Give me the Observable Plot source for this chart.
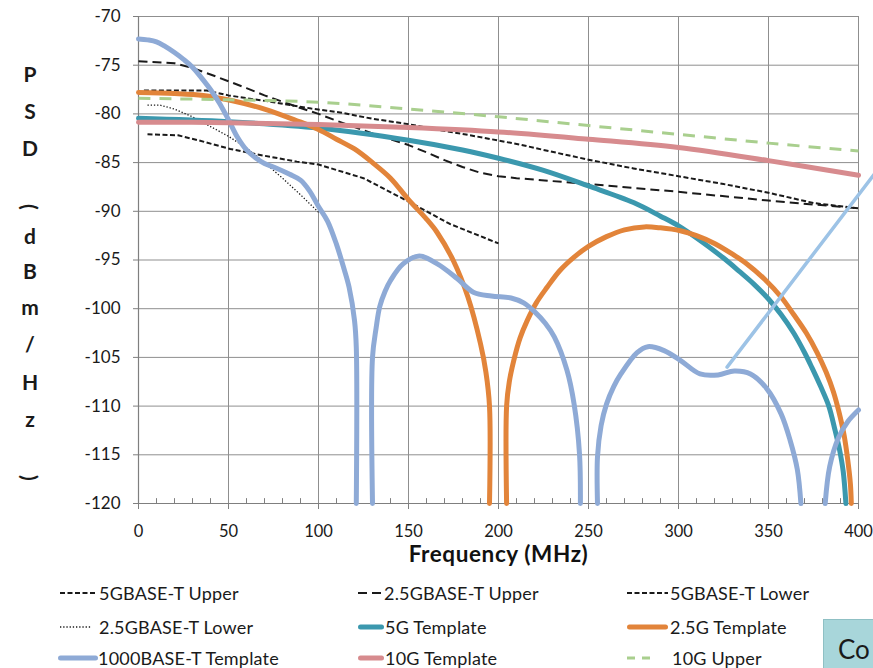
<!DOCTYPE html>
<html>
<head>
<meta charset="utf-8">
<script src="https://cdn.jsdelivr.net/npm/d3@7"></script>
<script src="https://cdn.jsdelivr.net/npm/@observablehq/plot@0.6"></script>
<style>
  body { margin: 0; background: #fff; }
  #wrap { position: relative; width: 873px; height: 668px; overflow: hidden; font-family: Lato, "Open Sans", sans-serif; color: #1a1a1a; }
  #wrap svg { position: absolute; left: 0; top: 0; }
  .ych { position: absolute; left: 30px; font-weight: bold; font-size: 21px; transform: translate(-50%, -50%); line-height: 1; }
  .legtext { position: absolute; font-size: 18px; line-height: 1; transform: translateY(-50%); white-space: nowrap; letter-spacing: 0.2px; }
  .legsw { position: absolute; overflow: visible; }
  #cobox { position: absolute; left: 823px; top: 619px; width: 70px; height: 70px; background: #a8d6da; border: 1px solid #8fc0c4; font-size: 26px; }
  #cobox span { position: absolute; left: 14px; top: 13px; }
</style>
</head>
<body>
<div id="wrap"></div>
<script>
// ---- axis ticks ----
const xTicks = [0, 50, 100, 150, 200, 250, 300, 350, 400];
const yTicks = [-70, -75, -80, -85, -90, -95, -100, -105, -110, -115, -120];
const xMinor = [10,20,30,40,60,70,80,90,110,120,130,140,160,170,180,190,210,220,230,240,260,270,280,290,310,320,330,340,360,370,380,390];

// ---- series (frequency MHz, PSD dBm/Hz); null breaks a line ----
const f5GUpper  = [3, 38, 50, 75, 96, 112, 130, 150, 165, 180, 196, 212, 225, 250, 275, 300, 325, 350, 375, 400];
const db5GUpper = [-77.6, -77.6, -78.1, -78.8, -79.45, -79.85, -80.5, -81.05, -81.6, -82.05, -82.6, -83.15, -83.7, -84.7, -85.6, -86.4, -87.2, -88.1, -89.15, -89.7];

const f25GUpper  = [0, 20, 30, 40, 50, 60, 70, 80, 90, 100, 110, 120, 130, 140, 150, 160, 170, 180, 190, 200, 210, 250, 300, 350, 400];
const db25GUpper = [-74.6, -74.8, -75.3, -75.95, -76.65, -77.35, -78.1, -78.75, -79.4, -80.0, -80.7, -81.35, -82.0, -82.6, -83.2, -83.95, -84.75, -85.45, -86.05, -86.4, -86.6, -87.2, -88.0, -88.9, -89.7];

const f5GLower  = [5, 22, 33, 51, 70, 88, 100, 125, 150, 173, 200];
const db5GLower = [-82.1, -82.2, -82.7, -83.6, -84.3, -84.9, -85.2, -86.6, -89.0, -91.3, -93.3];

const f25GLower  = [5, 12, 20, 30, 40, 50, 60, 70, 80, 90, 100];
const db25GLower = [-79.1, -79.1, -79.5, -80.3, -81.3, -82.3, -83.5, -85.0, -86.6, -88.3, -90.1];

const f5GTemplate  = [0, 50, 100, 150, 180, 200, 225, 250, 275, 290, 300, 312, 325, 334, 342, 350, 357, 364, 370, 374, 379, 383.5, 387, 389.5, 391.5, 393];
const db5GTemplate = [-80.45, -80.8, -81.45, -82.7, -83.7, -84.55, -85.8, -87.4, -89.1, -90.5, -91.5, -93.0, -94.8, -96.2, -97.5, -99.0, -100.6, -102.5, -104.5, -106, -108, -110, -112.5, -114.5, -116.7, -120];

const f25GTemplate  = [0, 20, 36, 51, 70, 88, 100, 110, 120, 130, 140, 150, 160, 166, 175, 183, 190, 193, 195, 195, null,
                       204.5, 204.5, 206, 208.5, 212, 216, 221, 227, 234, 242, 250, 260, 270, 281, 290, 301, 310, 320, 330, 338, 348, 357, 364, 371, 377, 382, 386, 389, 392, 394, 395.5, 396];
const db25GTemplate = [-77.8, -77.9, -78.1, -78.6, -79.5, -80.7, -81.6, -82.6, -83.6, -85.0, -86.6, -88.8, -90.8, -92.2, -95.1, -98.8, -103.6, -106.5, -110, -120, null,
                       -120, -110, -107.5, -105.3, -103, -101.2, -99.4, -97.8, -96.1, -94.7, -93.6, -92.6, -91.9, -91.6, -91.7, -92.0, -92.5, -93.3, -94.4, -95.4, -97.0, -98.8, -100.6, -102.5, -104.5, -106.5, -108.5, -110.5, -113, -115.5, -118, -120];

const f1000T  = [0, 5, 10, 15, 20, 25, 30, 35, 40, 45, 50, 55, 60, 65, 70, 77, 84, 90, 95, 100, 105, 110, 114, 117, 120, 121, 121, null,
                 130, 130, 132, 134, 137, 140, 147, 156, 166, 177, 186, 196, 207, 214, 220, 226, 231, 238, 242, 245, 245.5, null,
                 255, 255, 257, 260, 264, 268, 277, 283, 292, 301, 312, 322, 331, 340, 349, 357, 362, 366, 368, null,
                 381.5, 384, 389, 394, 400];
const db1000T = [-72.3, -72.4, -72.6, -73.1, -73.7, -74.4, -75.2, -76.3, -77.5, -78.9, -80.6, -82.4, -83.7, -84.5, -85.1, -85.6, -86.2, -86.8, -87.9, -89.5, -91.0, -93.4, -95.8, -97.8, -101.2, -104, -120, null,
                 -120, -105, -102, -99.8, -98.2, -97.1, -95.4, -94.6, -95.4, -96.9, -98.3, -98.7, -98.9, -99.4, -100.3, -101.5, -102.9, -106.3, -109.8, -114.9, -120, null,
                 -120, -115.2, -112, -109.8, -108, -106.7, -104.5, -103.9, -104.3, -105.3, -106.7, -106.8, -106.4, -106.7, -108.2, -110.8, -113.5, -116.5, -120, null,
                 -120, -116.2, -113.2, -111.6, -110.4];

const f10GTemplate  = [0, 50, 100, 150, 200, 250, 300, 350, 400];
const db10GTemplate = [-80.85, -80.9, -81.1, -81.4, -81.85, -82.6, -83.45, -84.8, -86.3];

const f10GUpper  = [0, 50, 100, 150, 200, 250, 300, 350, 400];
const db10GUpper = [-78.4, -78.55, -78.8, -79.5, -80.3, -81.2, -82.1, -83.0, -83.8];

// callout line from the 1000BASE-T curve toward a (cropped) note box
const fCallout  = [327, 412];
const dbCallout = [-106.0, -85.4];

const legendNames = ["5GBASE-T Upper", "2.5GBASE-T Upper", "5GBASE-T Lower", "2.5GBASE-T Lower", "5G Template", "2.5G Template", "1000BASE-T Template", "10G Template", "10G Upper"];

// ---- styles ----
const series = [
  {name: legendNames[0], f: f5GUpper,   db: db5GUpper,   stroke: "#1a1a1a", w: 2,   dash: "5,2.5", curve: "linear"},
  {name: legendNames[1], f: f25GUpper,  db: db25GUpper,  stroke: "#1a1a1a", w: 2,   dash: "9,5",   curve: "linear"},
  {name: legendNames[2], f: f5GLower,   db: db5GLower,   stroke: "#1a1a1a", w: 2,   dash: "5,2.5", curve: "linear"},
  {name: legendNames[3], f: f25GLower,  db: db25GLower,  stroke: "#1a1a1a", w: 1.3, dash: "1.3,1.9", curve: "linear"},
  {name: legendNames[4], f: f5GTemplate, db: db5GTemplate, stroke: "#3b98ae", w: 5, dash: null, curve: "catmull-rom"},
  {name: legendNames[5], f: f25GTemplate, db: db25GTemplate, stroke: "#e2843a", w: 5, dash: null, curve: "catmull-rom"},
  {name: legendNames[6], f: f1000T,     db: db1000T,     stroke: "#8eaad6", w: 5,   dash: null, curve: "catmull-rom"},
  {name: legendNames[7], f: f10GTemplate, db: db10GTemplate, stroke: "#d78b8e", w: 5, dash: null, curve: "catmull-rom"},
  {name: legendNames[8], f: f10GUpper,  db: db10GUpper,  stroke: "#a9cf8e", w: 3,   dash: "12,9", curve: "catmull-rom"}
];

const rows = s => s.f.map((x, i) => ({x, y: s.db[i]}));

const gridColor = "#8f8f8f";
const axisColor = "#7f7f7f";

const marks = [
  Plot.gridX(xTicks, {stroke: gridColor, strokeOpacity: 1, strokeWidth: 1}),
  Plot.gridY(yTicks, {stroke: gridColor, strokeOpacity: 1, strokeWidth: 1}),
  Plot.ruleX([0], {stroke: axisColor, strokeWidth: 1.2}),
  Plot.ruleY([-120], {stroke: axisColor, strokeWidth: 1.2}),
  Plot.ruleX(xMinor, {y1: -120, y2: -119.5, stroke: axisColor}),
  Plot.axisY(yTicks, {tickSize: 5, tickPadding: 13, tickFormat: d => String(d), fontSize: 17, label: null, stroke: axisColor, fill: "#1a1a1a"}),
  Plot.axisX(xTicks, {tickSize: 6, tickPadding: 16, tickFormat: d => String(d), fontSize: 16.5, label: null, stroke: axisColor, fill: "#1a1a1a"})
];
for (const s of series) {
  marks.push(Plot.line(rows(s), {
    x: "x", y: "y", stroke: s.stroke, strokeWidth: s.w,
    strokeDasharray: s.dash || undefined, curve: s.curve,
    strokeLinecap: s.dash ? "butt" : "round", strokeLinejoin: "round"
  }));
}
marks.push(Plot.line(fCallout.map((x, i) => ({x, y: dbCallout[i]})), {x: "x", y: "y", stroke: "#9dc3e6", strokeWidth: 3.5}));
marks.push(Plot.text(["Frequency (MHz)"], {text: d => d, frameAnchor: "bottom", lineAnchor: "middle", dy: 51, fontSize: 22.5, fontWeight: "bold", fill: "#111"}));

const chart = Plot.plot({
  width: 873, height: 570,
  marginLeft: 138, marginRight: 15, marginTop: 16, marginBottom: 67,
  x: {domain: [0, 400]},
  y: {domain: [-120, -70]},
  style: {fontFamily: "Lato, 'Open Sans', sans-serif", background: "transparent", overflow: "visible"},
  marks
});

// widen the axis title slightly (the source font is wider)
d3.select(chart).selectAll("text").filter(function() { return this.textContent === "Frequency (MHz)"; })
  .style("letter-spacing", "0.6px");

const wrap = document.getElementById("wrap");
wrap.appendChild(chart);

// ---- vertical stacked y label ----
const yLabelChars = ["P", "S", "D", "(", "d", "B", "m", "/", "H", "z", ")"];
const yLabelPos = [73, 110, 147, 207, 235, 270, 306, 343, 381, 418, 478];
yLabelChars.forEach((c, i) => {
  const d = document.createElement("div");
  d.className = "ych";
  d.textContent = c;
  d.style.top = yLabelPos[i] + "px";
  if (c === "(" || c === ")") d.style.transform = "translate(-50%, -50%) rotate(90deg)";
  wrap.appendChild(d);
});

// ---- legend ----
const rowY = [593, 627, 658];
const swX = [[60, 358, 627], [60, 358, 627], [58, 358, 627]];
const swW = [[36, 24, 41], [32, 26, 41], [40, 26, 25]];
const txX = [[99, 384, 670], [99, 385, 670], [98, 385, 672]];
const svgNS = "http://www.w3.org/2000/svg";
series.forEach((s, i) => {
  const r = Math.floor(i / 3), c = i % 3;
  const sw = document.createElementNS(svgNS, "svg");
  sw.setAttribute("class", "legsw");
  sw.setAttribute("width", swW[r][c]);
  sw.setAttribute("height", 10);
  sw.style.left = swX[r][c] + "px";
  sw.style.top = (rowY[r] - 5) + "px";
  const ln = document.createElementNS(svgNS, "line");
  const pad = s.dash ? 0 : 2.5;
  ln.setAttribute("x1", pad); ln.setAttribute("x2", swW[r][c] - pad);
  ln.setAttribute("y1", 5); ln.setAttribute("y2", 5);
  ln.setAttribute("stroke", s.stroke);
  ln.setAttribute("stroke-width", s.w);
  ln.setAttribute("stroke-linecap", s.dash ? "butt" : "round");
  if (s.dash) ln.setAttribute("stroke-dasharray", s.name === "10G Upper" ? "8,7" : s.dash);
  sw.appendChild(ln);
  wrap.appendChild(sw);
  const t = document.createElement("div");
  t.className = "legtext";
  t.textContent = s.name;
  t.style.left = txX[r][c] + "px";
  t.style.top = rowY[r] + "px";
  wrap.appendChild(t);
});

// ---- cropped note box at bottom right ----
const box = document.createElement("div");
box.id = "cobox";
box.innerHTML = "<span>Co</span>";
wrap.appendChild(box);
</script>
</body>
</html>
